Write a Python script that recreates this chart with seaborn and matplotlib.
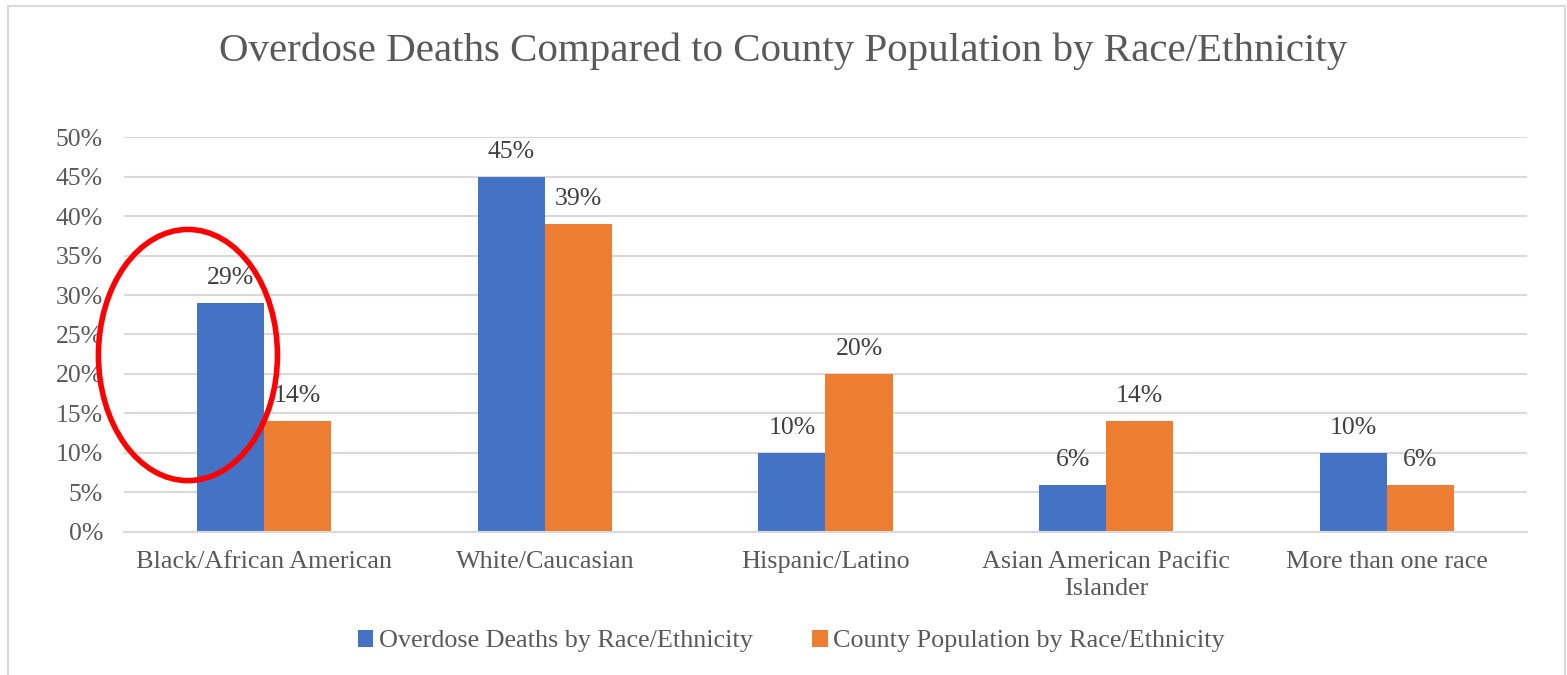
import pandas as pd
import seaborn as sns
import matplotlib
matplotlib.use('Agg')
import matplotlib.pyplot as plt
from matplotlib.patches import Ellipse, Rectangle, Patch

# Data
categories = ["Black/African American", "White/Caucasian", "Hispanic/Latino",
              "Asian American Pacific\nIslander", "More than one race"]
overdose_deaths = [29, 45, 10, 6, 10]
county_population = [14, 39, 20, 14, 6]
series_names = ["Overdose Deaths by Race/Ethnicity", "County Population by Race/Ethnicity"]
y_ticks = [0, 5, 10, 15, 20, 25, 30, 35, 40, 45, 50]

colors = ["#4472C4", "#ED7D31"]
text_color = "#595959"
grid_color = "#D9D9D9"

df = pd.DataFrame({
    "category": categories * 2,
    "series": [series_names[0]] * len(categories) + [series_names[1]] * len(categories),
    "value": overdose_deaths + county_population,
})

sns.set_theme(style="white")
plt.rcParams['font.family'] = ['Liberation Serif', 'DejaVu Serif']

fig = plt.figure(figsize=(15.67, 6.75), dpi=100)
ax = fig.add_axes([0.0791, 0.2119, 0.9745 - 0.0791, 0.797 - 0.2119])

sns.barplot(data=df, x="category", y="value", hue="series", palette=colors,
            width=0.478, saturation=1, ax=ax, legend=False, linewidth=0)

ax.set_xlim(-0.5, len(categories) - 0.5)
ax.set_ylim(0, 50)
ax.set_yticks(y_ticks)
ax.set_yticklabels([f"{t}%" for t in y_ticks], fontsize=18.5, color=text_color)
ax.set_xticks(range(len(categories)))
ax.set_xticklabels(categories, fontsize=18.8, color=text_color, linespacing=1.25)
ax.tick_params(axis='y', length=0, pad=15)
ax.tick_params(axis='x', length=0, pad=14)
ax.set_xlabel("")
ax.set_ylabel("")
ax.yaxis.grid(True, color=grid_color, linewidth=1.5)
ax.set_axisbelow(True)
for side in ["top", "right", "left"]:
    ax.spines[side].set_visible(False)
ax.spines["bottom"].set_color(grid_color)
ax.spines["bottom"].set_linewidth(1.5)

# value labels
for cont in ax.containers:
    ax.bar_label(cont, labels=[f"{v:.0f}%" for v in cont.datavalues],
                 padding=10, fontsize=18.5, color="#404040")

# red highlight ellipse
ax.add_patch(Ellipse((-0.272, 22.4), 0.638, 31.8, fill=False,
                     edgecolor="#FF0000", linewidth=4, clip_on=False, zorder=5))

fig.suptitle("Overdose Deaths Compared to County Population by Race/Ethnicity",
             x=0.5, y=0.952, fontsize=29.5, color=text_color)

handles = [Patch(facecolor=c, edgecolor='none') for c in colors]
fig.legend(handles, series_names, loc="center", bbox_to_anchor=(0.505, 0.05),
           ncol=2, frameon=False, fontsize=18.8, handlelength=0.6, handleheight=0.6,
           handletextpad=0.2, columnspacing=2.3, labelcolor=text_color)

# chart frame
fig.patches.append(Rectangle((8 / 1567, -0.05), (1565 - 8) / 1567, 1 - 6 / 675 + 0.05,
                             transform=fig.transFigure, fill=False,
                             edgecolor=grid_color, linewidth=1.5))

fig.savefig("out.png", dpi=100)
